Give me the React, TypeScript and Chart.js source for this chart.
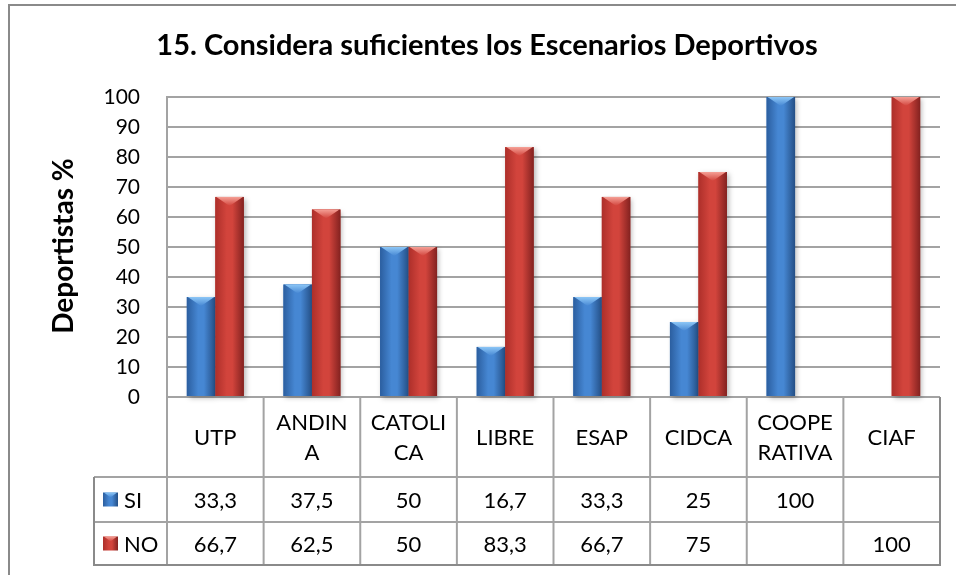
import React, { useEffect, useRef } from 'react';
import { Chart, registerables } from 'chart.js';

Chart.register(...registerables);

// ---------- DATA ----------
const chartTitle = '15. Considera suficientes los Escenarios Deportivos';
const yAxisTitle = 'Deportistas %';
const categories: (string | string[])[] = [
  'UTP',
  ['ANDIN', 'A'],
  ['CATOLI', 'CA'],
  'LIBRE',
  'ESAP',
  'CIDCA',
  ['COOPE', 'RATIVA'],
  'CIAF',
];
const seriesNames = ['SI', 'NO'];
const siValues: (number | null)[] = [33.3, 37.5, 50, 16.7, 33.3, 25, 100, null];
const noValues: (number | null)[] = [66.7, 62.5, 50, 83.3, 66.7, 75, null, 100];
const yMin = 0;
const yMax = 100;
const yStep = 10;

// ---------- STYLE ----------
const FONT = 'Lato, "Open Sans", "DejaVu Sans", sans-serif';
const GRID = '#a3a3a3';
const BORDER = '#8a8a8a';
const palettes = [
  { dark: '#2b5e9f', mid: '#4687d3', edge: '#244f86', light: '#8cc6f6' },
  { dark: '#ad2f2a', mid: '#d2443c', edge: '#832220', light: '#f5a096' },
];

function fmt(v: number | null) {
  if (v === null || v === undefined) return '';
  return String(v).replace('.', ',');
}

function fillBar(
  ctx: CanvasRenderingContext2D,
  l: number,
  t: number,
  r: number,
  b: number,
  p: { dark: string; mid: string; edge: string; light: string },
  bevel: number,
  shadow: boolean
) {
  const w = r - l;
  const g = ctx.createLinearGradient(l, 0, r, 0);
  g.addColorStop(0, p.dark);
  g.addColorStop(0.4, p.mid);
  g.addColorStop(0.6, p.mid);
  g.addColorStop(1, p.edge);
  ctx.save();
  if (shadow) {
    ctx.shadowColor = 'rgba(0,0,0,0.28)';
    ctx.shadowBlur = 5;
    ctx.shadowOffsetX = 2;
    ctx.shadowOffsetY = 2;
  }
  ctx.fillStyle = g;
  ctx.fillRect(l, t, w, b - t);
  ctx.restore();
  const bh = Math.min(bevel, b - t);
  if (bh > 0) {
    const g2 = ctx.createLinearGradient(0, t, 0, t + bh);
    g2.addColorStop(0, p.light);
    g2.addColorStop(1, p.mid);
    ctx.save();
    ctx.beginPath();
    ctx.moveTo(l + 1, t);
    ctx.lineTo(r - 1, t);
    ctx.lineTo(l + w / 2, t + bh);
    ctx.closePath();
    ctx.fillStyle = g2;
    ctx.fill();
    ctx.restore();
  }
}

const decorPlugin = {
  id: 'decor',
  afterDatasetsDraw(chart: any) {
    const ctx: CanvasRenderingContext2D = chart.ctx;
    chart.data.datasets.forEach((ds: any, di: number) => {
      const meta = chart.getDatasetMeta(di);
      meta.data.forEach((el: any, j: number) => {
        const v = ds.data[j];
        if (v === null || v === undefined) return;
        const { x, y, base, width } = el.getProps(['x', 'y', 'base', 'width'], true);
        fillBar(ctx, x - width / 2, y, x + width / 2, base, palettes[di], 9, true);
      });
    });
  },
  afterDraw(chart: any) {
    const ctx: CanvasRenderingContext2D = chart.ctx;
    const ca = chart.chartArea;
    const xs = chart.scales.x;
    const n = categories.length;
    const colW = (ca.right - ca.left) / n;

    ctx.save();
    // outer chart border
    ctx.strokeStyle = BORDER;
    ctx.lineWidth = 2;
    ctx.strokeRect(9, 5, 1000, 1000);

    // title
    ctx.fillStyle = '#000';
    ctx.font = `bold 29px ${FONT}`;
    ctx.textAlign = 'center';
    ctx.textBaseline = 'alphabetic';
    ctx.fillText(chartTitle, 487, 55);

    // y axis title
    ctx.save();
    ctx.translate(73, 246);
    ctx.rotate(-Math.PI / 2);
    ctx.font = `bold 28px ${FONT}`;
    ctx.textAlign = 'center';
    ctx.textBaseline = 'alphabetic';
    ctx.fillText(yAxisTitle, 0, 0);
    ctx.restore();

    // data table
    const catTop = ca.bottom;
    const catBottom = catTop + 80;
    const siBottom = catBottom + 45;
    const noBottom = siBottom + 43;
    const legendLeft = 94;

    ctx.strokeStyle = GRID;
    ctx.lineWidth = 2;
    ctx.beginPath();
    [catBottom, siBottom].forEach((yy) => {
      ctx.moveTo(legendLeft, yy);
      ctx.lineTo(ca.right, yy);
    });
    for (let i = 0; i <= n; i++) {
      const bx = i < n ? xs.getPixelForValue(i) - colW / 2 : xs.getPixelForValue(n - 1) + colW / 2;
      ctx.moveTo(bx, catTop);
      ctx.lineTo(bx, noBottom);
    }
    ctx.stroke();
    ctx.strokeStyle = BORDER;
    ctx.beginPath();
    ctx.moveTo(legendLeft, catBottom);
    ctx.lineTo(legendLeft, noBottom);
    ctx.lineTo(ca.right, noBottom);
    ctx.lineTo(ca.right, catTop);
    ctx.stroke();

    ctx.fillStyle = '#000';
    ctx.font = `22px ${FONT}`;
    ctx.textAlign = 'center';
    ctx.textBaseline = 'middle';
    const catMid = (catTop + catBottom) / 2;
    categories.forEach((c, i) => {
      const cx = xs.getPixelForValue(i);
      const lines = Array.isArray(c) ? c : [c];
      const lh = 30;
      const start = catMid - ((lines.length - 1) * lh) / 2;
      lines.forEach((ln, k) => ctx.fillText(ln, cx, start + k * lh + 1));
    });

    const rows = [
      { name: seriesNames[0], data: siValues, mid: (catBottom + siBottom) / 2 },
      { name: seriesNames[1], data: noValues, mid: (siBottom + noBottom) / 2 },
    ];
    rows.forEach((row, ri) => {
      row.data.forEach((v, i) => {
        ctx.fillStyle = '#000';
        ctx.textAlign = 'center';
        ctx.fillText(fmt(v), xs.getPixelForValue(i), row.mid + 1);
      });
      fillBar(ctx, 103, row.mid - 7, 118, row.mid + 7, palettes[ri], 5, false);
      ctx.fillStyle = '#000';
      ctx.textAlign = 'left';
      ctx.fillText(row.name, 124, row.mid + 1);
    });

    ctx.restore();
  },
};

export default function App() {
  const ref = useRef<HTMLCanvasElement | null>(null);
  useEffect(() => {
    if (!ref.current) return;
    const labels = categories.map((c) => (Array.isArray(c) ? c.join('') : c));
    const chart = new Chart(ref.current, {
      type: 'bar',
      data: {
        labels,
        datasets: [
          { label: seriesNames[0], data: siValues, backgroundColor: palettes[0].mid, borderWidth: 0 },
          { label: seriesNames[1], data: noValues, backgroundColor: palettes[1].mid, borderWidth: 0 },
        ],
      },
      options: {
        responsive: false,
        animation: false,
        devicePixelRatio: 1,
        layout: { padding: { left: 0, top: 97, right: 16, bottom: 178 } },
        plugins: {
          legend: { display: false },
          title: { display: false },
          tooltip: { enabled: false },
        },
        datasets: { bar: { barPercentage: 1, categoryPercentage: 0.59 } },
        scales: {
          x: { display: false },
          y: {
            min: yMin,
            max: yMax,
            afterFit: (s: any) => {
              s.width = 167;
            },
            ticks: {
              stepSize: yStep,
              padding: 27,
              color: '#000',
              font: { family: FONT, size: 21 },
            },
            grid: { color: GRID, lineWidth: 2, drawTicks: false },
            border: { display: true, color: GRID, width: 2 },
          },
        },
      },
      plugins: [decorPlugin],
    } as any);
    return () => chart.destroy();
  }, []);
  return (
    <div style={{ position: 'fixed', left: 0, top: 0, width: 956, height: 575, background: '#fff' }}>
      <canvas ref={ref} width={956} height={575} style={{ display: 'block' }} />
    </div>
  );
}
